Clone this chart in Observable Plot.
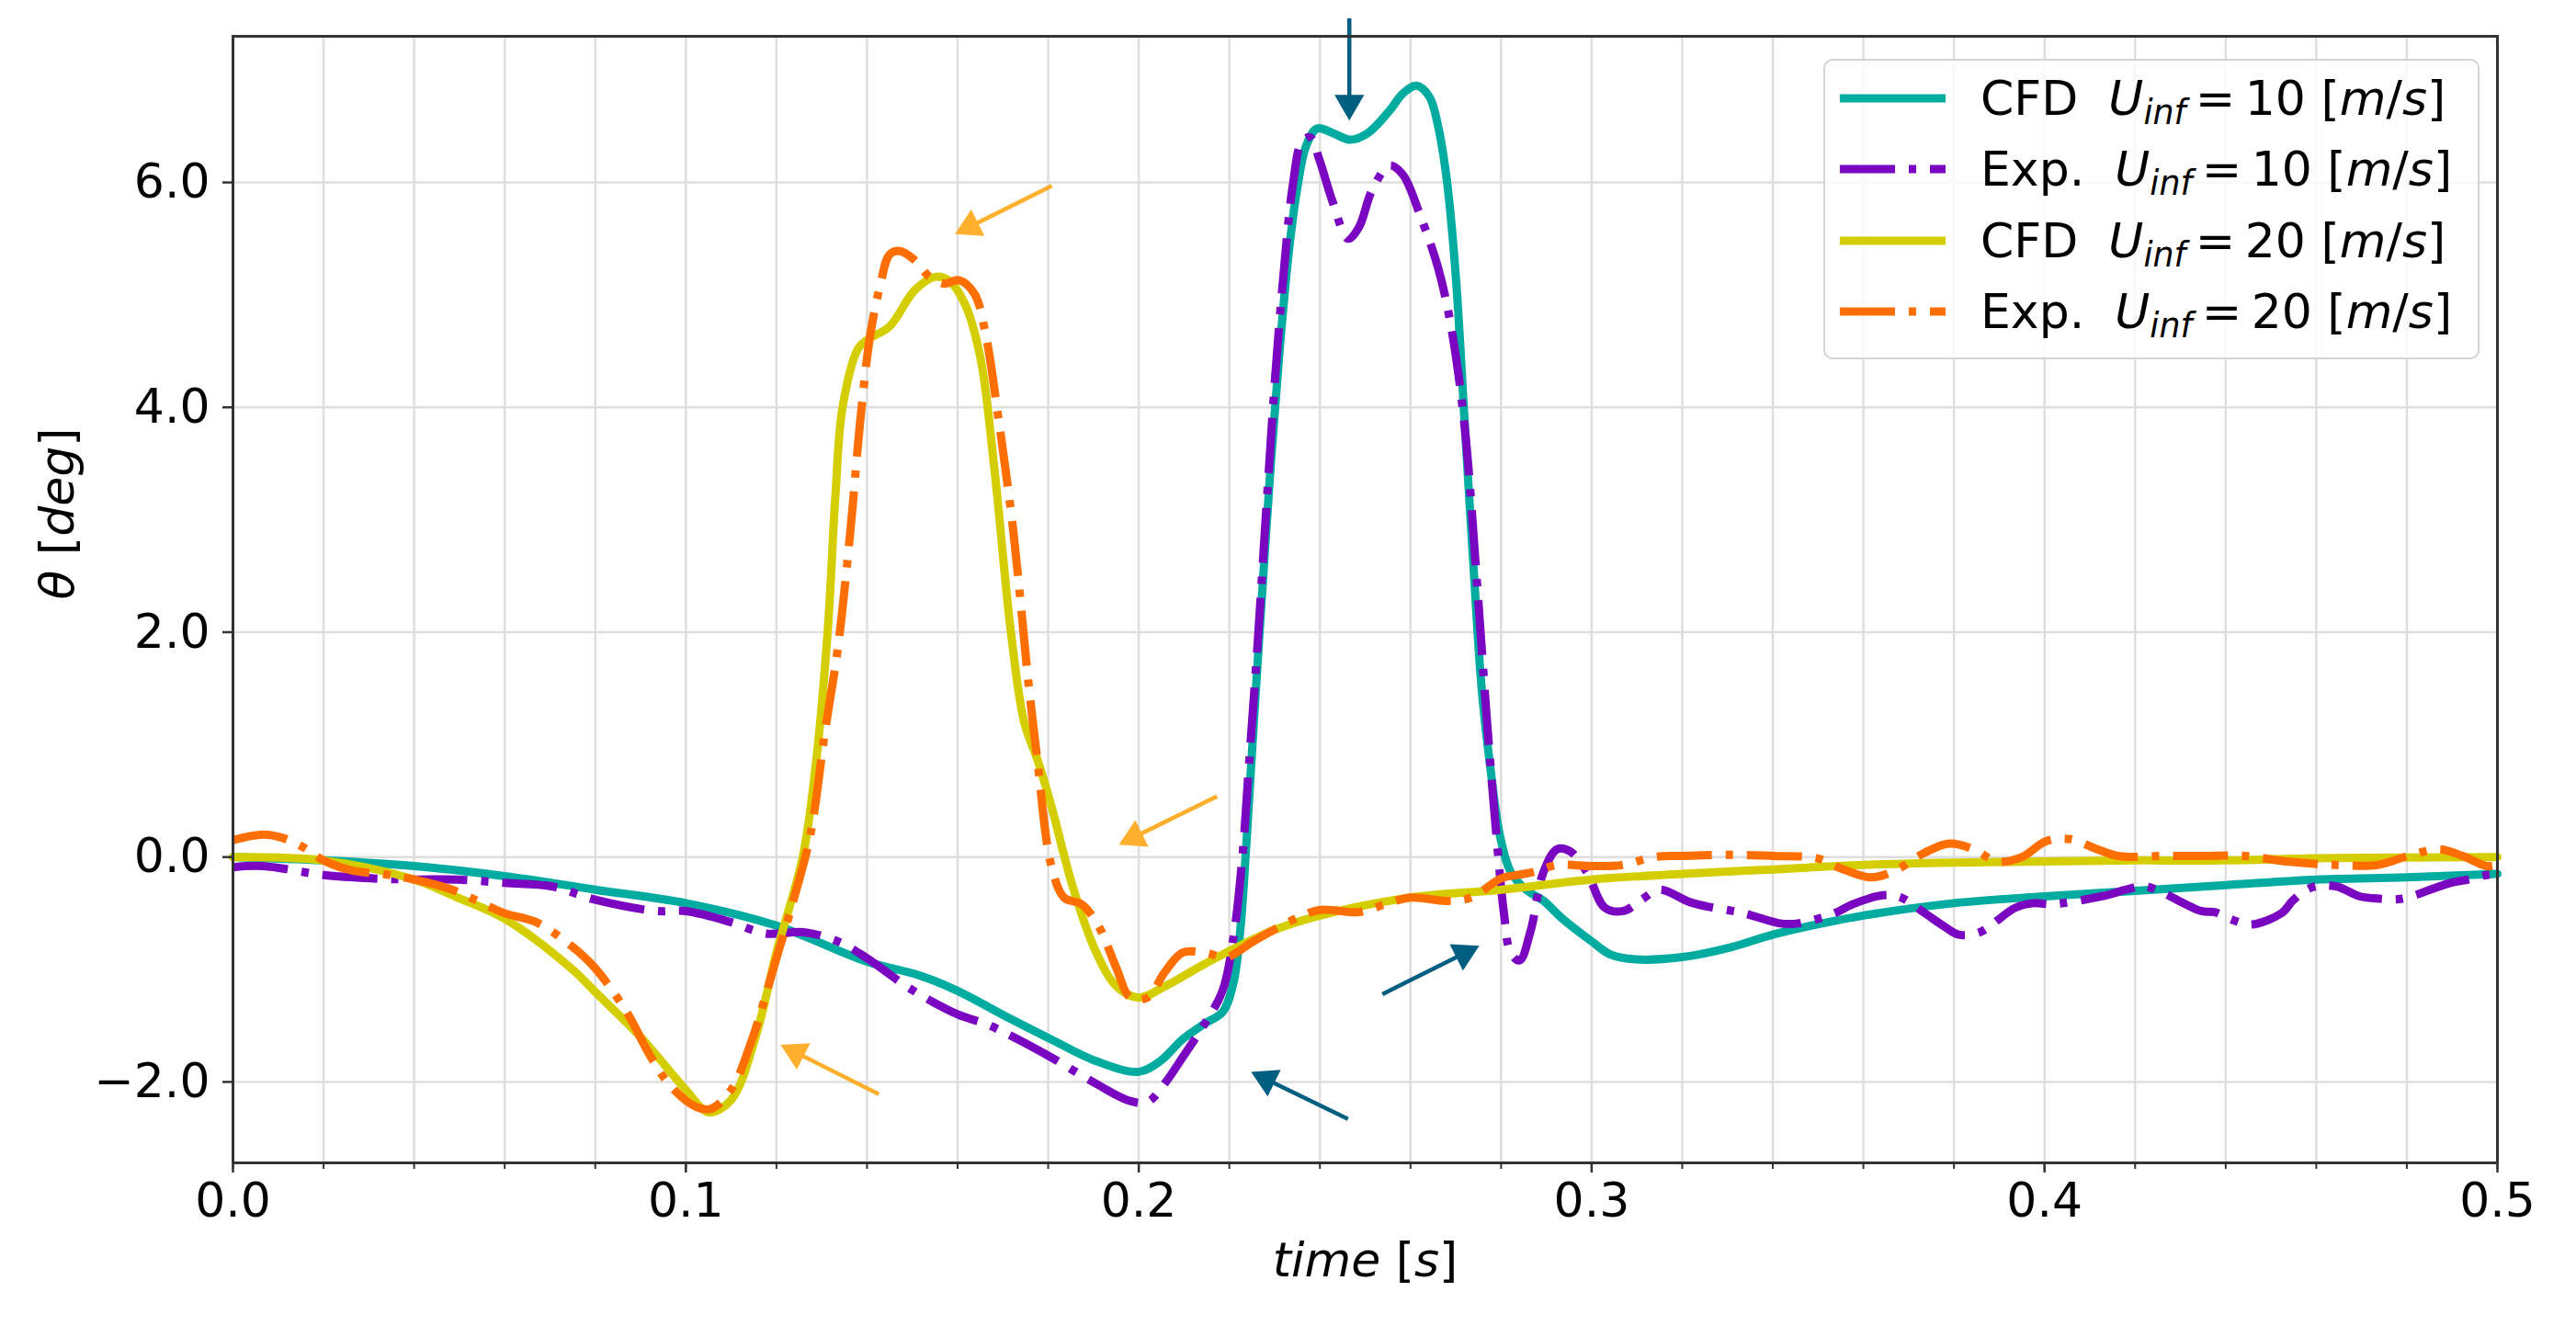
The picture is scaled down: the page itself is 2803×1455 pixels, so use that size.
<!DOCTYPE html>
<html><head><meta charset="utf-8">
<script src="https://cdn.jsdelivr.net/npm/d3@7"></script>
<script src="https://cdn.jsdelivr.net/npm/@observablehq/plot@0.6"></script>
<style>
html,body{margin:0;padding:0;background:#fff;}
#wrap{position:relative;width:2803px;height:1455px;font-family:"DejaVu Sans";}
#legend{position:absolute;left:1984px;top:64px;width:714px;height:327px;box-sizing:border-box;border:2.5px solid #d4d4d4;border-radius:10px;background:rgba(255,255,255,0.8);}
.row{position:absolute;left:0;width:700px;height:60px;}
.row svg{position:absolute;left:14px;top:0;}
.row .lab{position:absolute;left:169px;top:0;line-height:60px;font-size:52px;white-space:pre;color:#000;}
.lab i{font-style:italic;}
.lab sub{font-size:70%;vertical-align:-0.28em;line-height:0;}
</style></head>
<body><div id="wrap"><div id="chart"></div><div id="legend"></div></div>
<script>
// ---------- data (time [s], theta [deg]) ----------
const cfd10 = [[0,0],[0.02,-0.03],[0.04,-0.08],[0.06,-0.17],[0.08,-0.29],[0.10,-0.41],[0.12,-0.61],[0.14,-0.93],[0.1514,-1.05],[0.16,-1.19],[0.1708,-1.42],[0.1806,-1.62],[0.1903,-1.81],[0.2,-1.91],[0.2049,-1.81],[0.2097,-1.62],[0.2146,-1.48],[0.2185,-1.38],[0.2209,-1.12],[0.2224,-0.66],[0.2238,0.14],[0.2253,1.13],[0.2272,2.32],[0.2292,3.52],[0.2311,4.51],[0.2331,5.37],[0.235,5.95],[0.237,6.33],[0.2394,6.48],[0.2428,6.44],[0.2467,6.38],[0.2506,6.44],[0.2554,6.64],[0.2583,6.79],[0.2613,6.86],[0.2642,6.76],[0.2661,6.5],[0.268,6.03],[0.27,5.17],[0.2719,3.91],[0.2739,2.59],[0.2758,1.46],[0.2778,0.74],[0.2797,0.2],[0.2821,-0.13],[0.2855,-0.29],[0.2894,-0.39],[0.2936,-0.55],[0.30,-0.75],[0.3043,-0.87],[0.3096,-0.91],[0.32,-0.89],[0.331,-0.8],[0.34,-0.69],[0.3509,-0.59],[0.36,-0.52],[0.38,-0.41],[0.40,-0.35],[0.42,-0.3],[0.44,-0.25],[0.46,-0.2],[0.48,-0.18],[0.5,-0.15]];
const exp10 = [[0,-0.09],[0.0066,-0.08],[0.02,-0.16],[0.031,-0.19],[0.04,-0.2],[0.0495,-0.2],[0.06,-0.23],[0.0703,-0.26],[0.08,-0.38],[0.0934,-0.48],[0.10,-0.48],[0.11,-0.58],[0.1176,-0.68],[0.1264,-0.67],[0.1341,-0.76],[0.14,-0.9],[0.1495,-1.17],[0.16,-1.4],[0.166,-1.48],[0.1723,-1.6],[0.1806,-1.78],[0.1903,-2.01],[0.1981,-2.17],[0.2019,-2.18],[0.2058,-2.01],[0.2097,-1.78],[0.2146,-1.48],[0.2185,-1.19],[0.2209,-0.72],[0.2229,0.01],[0.2243,0.8],[0.2263,1.93],[0.2282,3.12],[0.2302,4.31],[0.2321,5.24],[0.234,5.97],[0.236,6.36],[0.2379,6.4],[0.2399,6.2],[0.2428,5.83],[0.2462,5.5],[0.2486,5.6],[0.2515,5.93],[0.2554,6.15],[0.2583,6.07],[0.2622,5.7],[0.2661,5.24],[0.269,4.71],[0.2719,3.85],[0.2749,2.32],[0.2768,1.26],[0.2788,0.27],[0.2807,-0.52],[0.2821,-0.85],[0.2841,-0.92],[0.2865,-0.66],[0.2894,-0.13],[0.2924,0.07],[0.2953,0.05],[0.299,-0.14],[0.3029,-0.45],[0.307,-0.48],[0.311,-0.38],[0.315,-0.29],[0.3216,-0.4],[0.3256,-0.44],[0.3336,-0.5],[0.3416,-0.59],[0.3456,-0.59],[0.3536,-0.5],[0.3576,-0.42],[0.3643,-0.34],[0.3683,-0.36],[0.3736,-0.5],[0.3776,-0.61],[0.381,-0.69],[0.3856,-0.67],[0.3936,-0.45],[0.3976,-0.41],[0.4016,-0.42],[0.4136,-0.34],[0.418,-0.29],[0.4222,-0.26],[0.4346,-0.48],[0.4376,-0.49],[0.4416,-0.56],[0.4456,-0.6],[0.4523,-0.5],[0.455,-0.38],[0.459,-0.27],[0.4643,-0.26],[0.4696,-0.35],[0.474,-0.37],[0.4789,-0.37],[0.4896,-0.23],[0.4936,-0.2],[0.4976,-0.16],[0.5,-0.15]];
const cfd20 = [[0,0],[0.02,-0.03],[0.04,-0.2],[0.049,-0.35],[0.06,-0.55],[0.0747,-0.99],[0.08,-1.2],[0.09,-1.6],[0.10,-2.07],[0.105,-2.27],[0.11,-2.16],[0.1154,-1.6],[0.12,-0.85],[0.1258,0],[0.1286,0.79],[0.1313,2.0],[0.133,3.2],[0.1346,4.0],[0.138,4.52],[0.14,4.6],[0.145,4.72],[0.1505,5.04],[0.155,5.16],[0.158,5.13],[0.1615,4.93],[0.165,4.45],[0.168,3.5],[0.1718,1.99],[0.1747,1.2],[0.1776,0.87],[0.1806,0.47],[0.1854,-0.26],[0.1903,-0.82],[0.1951,-1.15],[0.2,-1.25],[0.2058,-1.15],[0.2146,-0.95],[0.2292,-0.66],[0.24,-0.52],[0.26,-0.36],[0.28,-0.29],[0.30,-0.2],[0.32,-0.15],[0.34,-0.11],[0.36,-0.07],[0.38,-0.05],[0.40,-0.04],[0.42,-0.03],[0.44,-0.03],[0.46,-0.01],[0.5,0]];
const exp20 = [[0,0.15],[0.0066,0.2],[0.011,0.17],[0.0154,0.09],[0.02,-0.03],[0.0264,-0.12],[0.033,-0.15],[0.04,-0.2],[0.0484,-0.29],[0.055,-0.41],[0.06,-0.5],[0.067,-0.58],[0.0747,-0.79],[0.08,-0.99],[0.0868,-1.37],[0.0923,-1.78],[0.0967,-2.04],[0.1022,-2.22],[0.1055,-2.24],[0.11,-2.07],[0.1143,-1.66],[0.12,-0.9],[0.1242,-0.32],[0.1275,0.2],[0.1308,1.14],[0.1335,1.84],[0.1363,2.89],[0.1385,3.88],[0.1407,4.64],[0.143,5.1],[0.145,5.36],[0.1473,5.39],[0.1505,5.31],[0.1538,5.16],[0.157,5.1],[0.1604,5.13],[0.1637,5.01],[0.166,4.69],[0.1692,3.85],[0.1723,2.9],[0.1757,1.53],[0.1776,0.87],[0.1806,-0.06],[0.1835,-0.36],[0.1874,-0.42],[0.1912,-0.62],[0.1951,-0.99],[0.1981,-1.25],[0.2019,-1.25],[0.2058,-1.02],[0.2097,-0.85],[0.2146,-0.85],[0.2194,-0.89],[0.2253,-0.75],[0.234,-0.56],[0.24,-0.47],[0.2486,-0.49],[0.2544,-0.42],[0.26,-0.36],[0.268,-0.39],[0.2734,-0.36],[0.28,-0.19],[0.2836,-0.16],[0.2875,-0.13],[0.2924,-0.07],[0.30,-0.08],[0.307,-0.07],[0.3136,0],[0.32,0.01],[0.331,0.02],[0.34,0.01],[0.3496,-0.01],[0.355,-0.1],[0.3616,-0.18],[0.367,-0.12],[0.3736,0.04],[0.379,0.12],[0.3843,0.07],[0.3896,-0.04],[0.395,0],[0.4003,0.14],[0.4056,0.16],[0.411,0.08],[0.4163,0.01],[0.427,0.01],[0.435,0.01],[0.4443,0.01],[0.4536,-0.04],[0.4643,-0.07],[0.4736,-0.07],[0.4803,0.01],[0.487,0.07],[0.4923,0.01],[0.4976,-0.08],[0.5,-0.07]];

// annotation arrows: [t_tail, theta_tail, t_tip, theta_tip]
const orangeArrows = [[0.1808,5.97,0.1594,5.54],[0.2173,0.54,0.1956,0.11],[0.1426,-2.11,0.1209,-1.67]];
const blueArrows = [[0.2465,7.46,0.2465,6.55],[0.2462,-2.33,0.2248,-1.91],[0.2538,-1.22,0.2752,-0.79]];

const xMajor = [0,0.1,0.2,0.3,0.4,0.5];
const xMinor = d3.range(0,26).map(i=>+(i*0.02).toFixed(2));
const yTicks = [-2,0,2,4,6];
const seriesNames = ["CFD", "Exp.", "CFD", "Exp."];
const seriesSpeeds = ["10","10","20","20"];

// ---------- layout ----------
const W=2803,H=1455,ML=253,MR=86,MT=39,MB=190;
const xDomain=[0,0.5], yDomain=[-2.72,7.30];
const X = Plot.scale({x:{domain:xDomain,range:[ML,W-MR]}});
const Y = Plot.scale({y:{domain:yDomain,range:[H-MB,MT]}});
const C = {cfd10:"#00ABA0", exp10:"#7B06C2", cfd20:"#D4CE00", exp20:"#FF6E00", orange:"#FFAF2E", blue:"#005E80"};
const dash = "60,15,8,15";

const headR = 12;
function geom(arr){
  return arr.map(([t1,v1,t2,v2])=>{
    const x1=X.apply(t1),y1=Y.apply(v1),x2=X.apply(t2),y2=Y.apply(v2);
    const a=Math.atan2(y2-y1,x2-x1), ca=Math.cos(a), sa=Math.sin(a);
    const c=1.555*headR, b=2.0*headR;
    return {t1, v1, t2:X.invert(x2-ca*b), v2:Y.invert(y2-sa*b),
            ht:X.invert(x2-ca*c), hv:Y.invert(y2-sa*c), rot:a*180/Math.PI+90};
  });
}
const og = geom(orangeArrows), bg = geom(blueArrows);
const lineOpts = (col, dashed)=>({x:d=>d[0], y:d=>d[1], stroke:col, strokeWidth:9, curve:"catmull-rom",
  strokeDasharray: dashed?dash:undefined, strokeLinecap: dashed?"butt":"round", strokeLinejoin:"round"});

const chart = Plot.plot({
  width:W, height:H, marginLeft:ML, marginRight:MR, marginTop:MT, marginBottom:MB,
  x:{domain:xDomain}, y:{domain:yDomain},
  style:{fontFamily:"DejaVu Sans", background:"white", overflow:"visible"},
  marks:[
    Plot.ruleX(xMinor,{stroke:"#dedede",strokeWidth:2.5}),
    Plot.ruleY(yTicks,{stroke:"#dedede",strokeWidth:2.5}),
    Plot.line(cfd10, lineOpts(C.cfd10,false)),
    Plot.line(exp10, lineOpts(C.exp10,true)),
    Plot.line(cfd20, lineOpts(C.cfd20,false)),
    Plot.line(exp20, lineOpts(C.exp20,true)),
    Plot.link(og,{x1:"t1",y1:"v1",x2:"t2",y2:"v2",stroke:C.orange,strokeWidth:4.5}),
    Plot.dot(og,{x:"ht",y:"hv",r:headR,symbol:"triangle",fill:C.orange,stroke:"none",rotate:"rot"}),
    Plot.link(bg,{x1:"t1",y1:"v1",x2:"t2",y2:"v2",stroke:C.blue,strokeWidth:4.5}),
    Plot.dot(bg,{x:"ht",y:"hv",r:headR,symbol:"triangle",fill:C.blue,stroke:"none",rotate:"rot"}),
    Plot.axisX(xMinor,{tickSize:7,tickFormat:()=>"",label:null,stroke:"#333",strokeWidth:2}),
    Plot.axisX(xMajor,{tickSize:11,tickPadding:11,fontSize:52,fill:"black",tickFormat:d3.format(".1f"),label:null,stroke:"#333",strokeWidth:2.5}),
    Plot.axisY(yTicks,{tickSize:11,tickPadding:14,fontSize:52,fill:"black",tickFormat:d3.format(".1f"),label:null,stroke:"#333",strokeWidth:2.5}),
    Plot.frame({stroke:"#333",strokeWidth:3}),
    Plot.text(["time [s]"],{frameAnchor:"bottom",dy:107,fontSize:52,lineAnchor:"middle",fill:"black"}),
    Plot.text(["θ [deg]"],{frameAnchor:"left",dx:-190,rotate:-90,fontSize:52,lineAnchor:"middle",fill:"black"})
  ]
});
document.getElementById("chart").appendChild(chart);

// mathtext-like labels: italic letters, upright brackets
chart.querySelectorAll("text").forEach(t=>{
  if (t.textContent==="time [s]") t.innerHTML='<tspan font-style="italic">time</tspan> [<tspan font-style="italic">s</tspan>]';
  if (t.textContent==="θ [deg]") t.innerHTML='<tspan font-style="italic">θ</tspan> [<tspan font-style="italic">deg</tspan>]';
});

// ---------- legend ----------
const legend = document.getElementById("legend");
const keys = ["cfd10","exp10","cfd20","exp20"];
const rowCenters = [43,120,198,275];
keys.forEach((k,i)=>{
  const row = document.createElement("div");
  row.className="row"; row.style.top=(rowCenters[i]-30-2.5)+"px";
  const dashed = i%2===1;
  row.innerHTML = `<svg width="120" height="60"><line x1="2" x2="117" y1="30" y2="30" stroke="${C[k]}" stroke-width="9" ${dashed?`stroke-dasharray="${dash}"`:""}/></svg>`+
    `<div class="lab">${seriesNames[i]}  <i>U</i><sub><i>inf</i></sub>\u2009=\u2009${seriesSpeeds[i]} [<i>m</i>/<i>s</i>]</div>`;
  legend.appendChild(row);
});
</script></body></html>
